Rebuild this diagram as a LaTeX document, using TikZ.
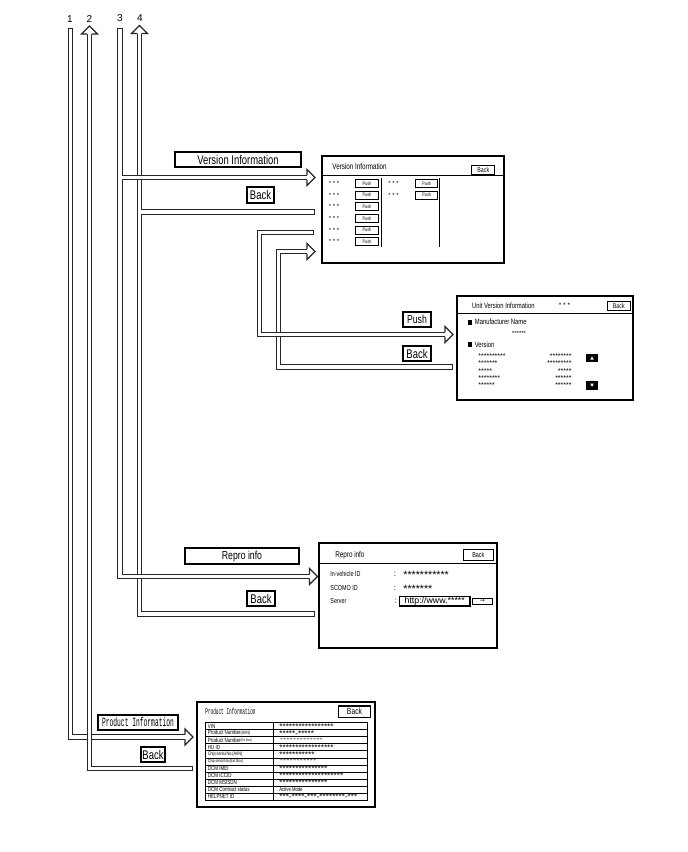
\documentclass[tikz,border=0pt]{standalone}
\usepackage{fontspec}
\setmainfont{Liberation Sans}
\newfontfamily\labfont{Liberation Sans}[FakeStretch=0.75]
\newfontfamily\gothfont{Liberation Mono}[FakeStretch=0.5]
\newfontfamily\arrowfont{DejaVu Sans}
\usepackage{tikz}
\usetikzlibrary{calc, positioning}
\newcommand{\fsz}[1]{\fontsize{#1}{#1}\selectfont}
\newcommand{\dashfill}[1]{\foreach \k in {1,...,#1}{\kern0.3pt-}}
\newcommand{\pipehead}[2]{%
  \begin{scope}[shift={(#1)}, rotate=#2]
    \fill[white] (0,-8) -- (8,0) -- (0,8) -- cycle;
    \draw[pipeline] (0,-2.3) -- (0,-8) -- (8,0) -- (0,8) -- (0,2.3);
  \end{scope}}
\tikzset{
  pipeline/.style={draw=black!85, line width=0.6pt, line join=miter},
  pipe/.style={pipeline, double=white, double distance=1.7pt, line cap=rect},
  tag/.style={draw, line width=0.8pt, inner sep=0pt, font=\labfont\fsz{6.3}},
  screen/.style={draw, line width=0.7pt, inner sep=0pt},
  btn/.style={draw, line width=0.45pt, inner sep=0pt, font=\labfont\fsz{3.5}},
  stars/.style={inner sep=0pt, font=\fsz{3.5}},
  txt/.style={inner sep=0pt, anchor=west, font=\labfont\fsz{3.9}}
}
\begin{document}
\begin{tikzpicture}[x=0.5pt, y=-0.5pt]
  \useasboundingbox (0,0) rectangle (688,852);
  \node (n1) at (70,19.3) [font=\fsz{5}] {1};
  \node (n2) at (89.5,19.3) [font=\fsz{5}] {2};
  \node (n3) at (120,18.3) [font=\fsz{5}] {3};
  \node (n4) at (140,18.3) [font=\fsz{5}] {4};

  \coordinate (c1top) at (70.5,31);
  \coordinate (c1in) at (185,737);
  \coordinate (c2top) at (89.5,34);
  \coordinate (c2end) at (190,768.5);
  \coordinate (c3top) at (120,30.5);
  \coordinate (c3ver) at (307,177.5);
  \coordinate (c3rep) at (309.5,576.5);
  \coordinate (c4top) at (139.5,33.5);
  \coordinate (c4ver) at (312,212);
  \coordinate (c4rep) at (312,614);
  \coordinate (pushout) at (311,232.5);
  \coordinate (pushbend) at (259.5,232.5);
  \coordinate (pushin) at (445,334.5);
  \coordinate (backout) at (450,367);
  \coordinate (backbend) at (278.5,367);
  \coordinate (backin) at (307,251.5);

  \draw[pipe] (c1top) |- (c1in);
  \pipehead{c1in}{0}
  \draw[pipe] (c2end) -| (c2top);
  \pipehead{c2top}{90}
  \draw[pipe] (c4top) |- (c4rep) (c4top |- c4ver) -- (c4ver);
  \pipehead{c4top}{90}
  \draw[pipe] (c3top) |- (c3rep) (c3top |- c3ver) -- (c3ver);
  \pipehead{c3ver}{0}
  \pipehead{c3rep}{0}
  \draw[pipe] (backout) -- (backbend) |- (backin);
  \pipehead{backin}{0}
  \draw[pipe] (pushout) -- (pushbend) |- (pushin);
  \pipehead{pushin}{0}

  \node (lver) at (238,159.5) [tag, minimum width=63pt, minimum height=7.5pt] {Version Information};
  \node (lback1) at (260.5,195) [tag, minimum width=13.5pt, minimum height=8pt] {Back};
  \node (lpush) at (417,319.5) [tag, minimum width=14pt, minimum height=7.5pt, font=\labfont\fsz{5.8}] {Push};
  \node (lback2) at (417,353.5) [tag, minimum width=14pt, minimum height=7.5pt] {Back};
  \node (lrepro) at (242,556) [tag, minimum width=57pt, minimum height=8pt, font=\labfont\fsz{5.8}] {Repro info};
  \node (lback3) at (261,598.5) [tag, minimum width=14pt, minimum height=7.5pt] {Back};
  \node (lprod) at (138,722.5) [tag, line width=1pt, minimum width=40pt, minimum height=7.5pt, font=\gothfont\fsz{6.3}] {Product Information};
  \node (lback4) at (153,754.5) [tag, minimum width=12pt, minimum height=7.5pt] {Back};

  % Version Information screen
  \node (verscr) at (413,209.5) [screen, minimum width=91pt, minimum height=53.5pt] {};
  \draw[line width=0.5pt] (322,175) -- (504,175);
  \node at (332,166.5) [txt, font=\labfont\fsz{4.2}] {Version Information};
  \node (vback) at (483.3,169.5) [btn, minimum width=11.5pt, minimum height=4.5pt] {Back};
  \foreach \i in {0,...,5} {
    \node at (334,183.3+11.67*\i) [stars, font=\fsz{3}] {* * *};
    \node at (367,183.3+11.67*\i) [btn, minimum width=11.3pt, minimum height=4pt, font=\labfont\fsz{2.5}] {Push};
  }
  \foreach \i in {0,1} {
    \node at (393.5,183.3+11.67*\i) [stars, font=\fsz{3}] {* * *};
    \node at (426.7,183.3+11.67*\i) [btn, minimum width=11pt, minimum height=4pt, font=\labfont\fsz{2.5}] {Push};
  }
  \draw[line width=0.5pt] (381,178.3) -- (381,246.7);
  \draw[line width=0.5pt] (439,178.3) -- (439,246.7);

  % Unit Version Information screen
  \node (unitscr) at (545,348) [screen, minimum width=88pt, minimum height=52pt] {};
  \draw[line width=0.5pt] (457,313) -- (633,313);
  \node at (471.7,305.7) [txt] {Unit Version Information};
  \node at (564.5,305.7) [stars, font=\fsz{3.3}] {* * *};
  \node (uback) at (618.8,306.2) [btn, minimum width=11.2pt, minimum height=4.5pt] {Back};
  \fill (467.5,319.5) rectangle (471.5,325);
  \node at (474.5,322) [txt] {Manufacturer Name};
  \node at (519,333) [stars, font=\fsz{3}] {******};
  \fill (467.5,341.7) rectangle (471.5,347.3);
  \node at (474.5,344.5) [txt] {Version};
  \foreach \y/\l/\r in {356/**********/********, 363.3/*******/*********, 370.7/*****/*****, 378/********/******, 385.3/******/******} {
    \node at (478,\y) [stars, anchor=west] {\l};
    \node at (572,\y) [stars, anchor=east] {\r};
  }
  \node (uup) at (592,358) [fill=black, minimum width=6pt, minimum height=4.2pt, inner sep=0pt] {};
  \fill[white] (590.3,359.6) -- (593.7,359.6) -- (592,356.4) -- cycle;
  \node (udown) at (592,385.3) [fill=black, minimum width=6pt, minimum height=4.6pt, inner sep=0pt] {};
  \fill[white] (590.3,383.7) -- (593.7,383.7) -- (592,386.9) -- cycle;

  % Repro info screen
  \node (reproscr) at (408,595.5) [screen, minimum width=89pt, minimum height=52.5pt] {};
  \draw[line width=0.5pt] (319,563.3) -- (497,563.3);
  \node at (335,555) [txt, font=\labfont\fsz{4.2}] {Repro info};
  \node (rback) at (478.3,554.7) [btn, minimum width=15pt, minimum height=5.3pt, font=\labfont\fsz{3.6}] {Back};
  \node at (330,574) [txt, font=\labfont\fsz{3.6}] {In-vehicle ID};
  \node at (330,588.3) [txt, font=\labfont\fsz{3.6}] {SCOMO ID};
  \node at (330,601) [txt, font=\labfont\fsz{3.6}] {Server};
  \node at (395,574) [stars, font=\fsz{4}] {:};
  \node at (395,588.3) [stars, font=\fsz{4}] {:};
  \node at (396,601) [stars, font=\fsz{4}] {:};
  \node at (403,574.5) [stars, anchor=west, font=\fsz{5.3}] {***********};
  \node at (403,588.8) [stars, anchor=west, font=\fsz{5.3}] {*******};
  \node (url) at (434.7,601.3) [btn, line width=0.7pt, minimum width=35.3pt, minimum height=4.7pt, font=\fsz{4.4}] {http://www.*****};
  \node (go) at (482.5,601.2) [btn, minimum width=9.8pt, minimum height=2.8pt, font=\arrowfont\fsz{3}] {→};

  % Product Information screen
  \node (prodscr) at (286,754.5) [screen, minimum width=89pt, minimum height=52.5pt] {};
  \node at (205,711) [txt, font=\gothfont\fsz{4.4}] {Product Information};
  \node (pback) at (354.5,711.7) [btn, line width=0.6pt, minimum width=16.2pt, minimum height=5.7pt, font=\labfont\fsz{4.5}] {Back};
  \draw[line width=0.5pt] (205,722.7) rectangle (367,800);
  \draw[line width=0.5pt] (273.3,722.7) -- (273.3,800);
  \foreach \i in {1,...,10}
    \draw[line width=0.35pt] (205,722.7+7.03*\i) -- (367,722.7+7.03*\i);
  \foreach \i/\l/\v in {
      0/{VIN}/{*****************},
      1/{Product Number{\fsz{2.4}(AVN)}}/{*****-*****},
      2/{Product Number\raisebox{0.6pt}{\fsz{1.8}(Ext Box)}}/{\dashfill{13}},
      3/{HU ID}/{*****************},
      4/{\fsz{2.5}Chip serial No.(AVN)}/{***********},
      5/{\fsz{2.2}Chip serial No.(Ext Box)}/{\dashfill{11}},
      6/{DCM IMEI}/{***************},
      7/{DCM ICCID}/{********************},
      8/{DCM MSISDN}/{***************},
      9/{DCM Contract status}/{\labfont\fsz{2.8}Active Mode},
      10/{HELPNET ID}/{***-****-***-********-***}} {
    \node at (207.5,726.2+7.03*\i) [txt, font=\labfont\fsz{3}] {\l};
    \node at (279,726.4+7.03*\i) [stars, anchor=west, font=\fsz{4.1}] {\v};
  }
\end{tikzpicture}
\end{document}
